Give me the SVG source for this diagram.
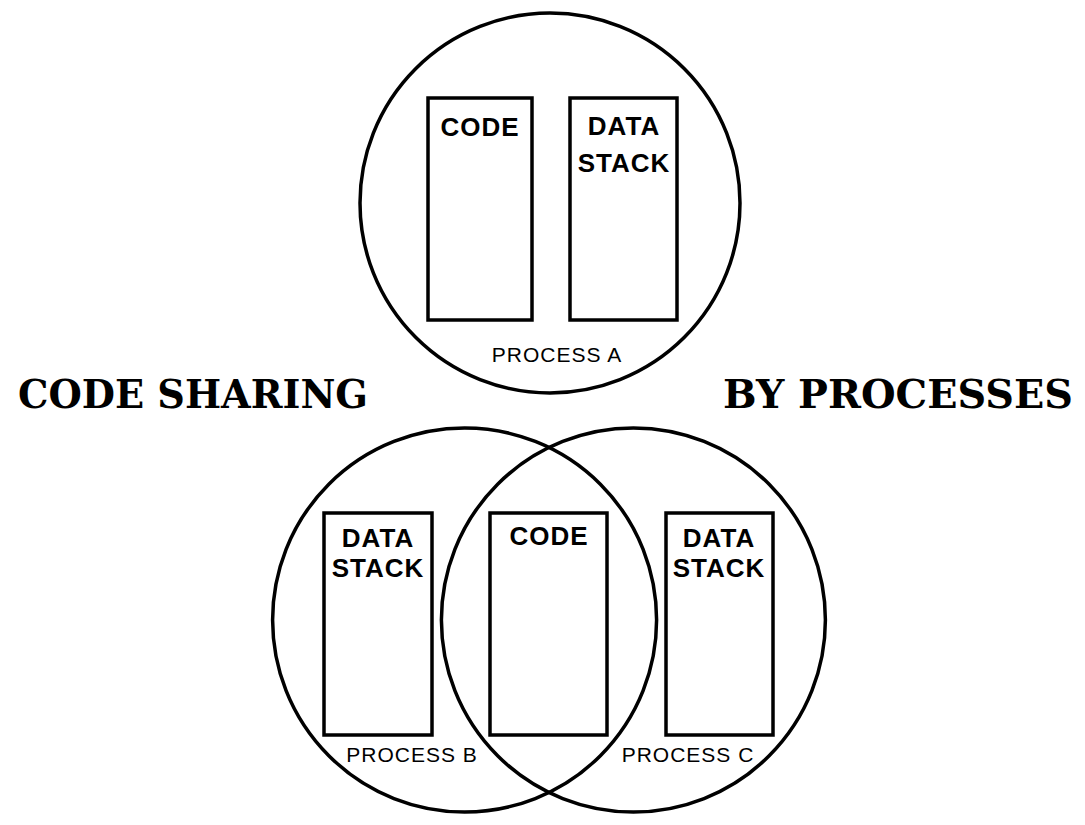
<svg xmlns="http://www.w3.org/2000/svg" width="1085" height="825" viewBox="0 0 1085 825">
  <style>
    .proc { fill: none; stroke: #000; stroke-width: 3.5; }
    .seg { fill: #fff; stroke: #000; stroke-width: 3.5; }
    .lbl { font-family: "Liberation Sans", Arial, sans-serif; font-weight: bold; font-size: 26px; fill: #000; text-anchor: middle; letter-spacing: 1px; }
    .pname { font-family: "Liberation Sans", Arial, sans-serif; font-size: 21px; fill: #000; text-anchor: middle; letter-spacing: 1px; }
    .title { font-family: "DejaVu Serif", "Liberation Serif", serif; font-weight: bold; font-size: 40px; fill: #000; }
  </style>
  <rect width="1085" height="825" fill="#fff"/>

  <!-- title -->
  <text class="title" x="18" y="408" textLength="350" lengthAdjust="spacingAndGlyphs">CODE SHARING</text>
  <text class="title" x="723" y="408" textLength="350" lengthAdjust="spacingAndGlyphs">BY PROCESSES</text>

  <!-- process A: private code and data -->
  <g id="process-a">
    <circle class="proc" cx="550" cy="203" r="190"/>
    <g id="a-code">
      <rect class="seg" x="428" y="98" width="104" height="222"/>
      <text class="lbl" x="480" y="136">CODE</text>
    </g>
    <g id="a-data">
      <rect class="seg" x="570" y="98" width="107" height="222"/>
      <text class="lbl" x="624" y="135">DATA</text>
      <text class="lbl" x="624" y="172">STACK</text>
    </g>
    <text class="pname" x="557" y="362">PROCESS A</text>
  </g>

  <!-- processes B and C: one shared code segment -->
  <g id="process-b">
    <circle class="proc" cx="464.6" cy="620" r="192"/>
    <g id="b-data">
      <rect class="seg" x="324" y="513" width="108" height="222"/>
      <text class="lbl" x="378" y="547">DATA</text>
      <text class="lbl" x="378" y="577">STACK</text>
    </g>
    <text class="pname" x="412" y="762">PROCESS B</text>
  </g>

  <g id="process-c">
    <circle class="proc" cx="633.4" cy="620" r="192"/>
    <g id="c-data">
      <rect class="seg" x="666" y="513" width="107" height="222"/>
      <text class="lbl" x="719" y="547">DATA</text>
      <text class="lbl" x="719" y="577">STACK</text>
    </g>
    <text class="pname" x="688" y="762">PROCESS C</text>
  </g>

  <g id="shared-code">
    <rect class="seg" x="490" y="513" width="117" height="222"/>
    <text class="lbl" x="549" y="545">CODE</text>
  </g>

  <g id="connectors"></g>
</svg>
